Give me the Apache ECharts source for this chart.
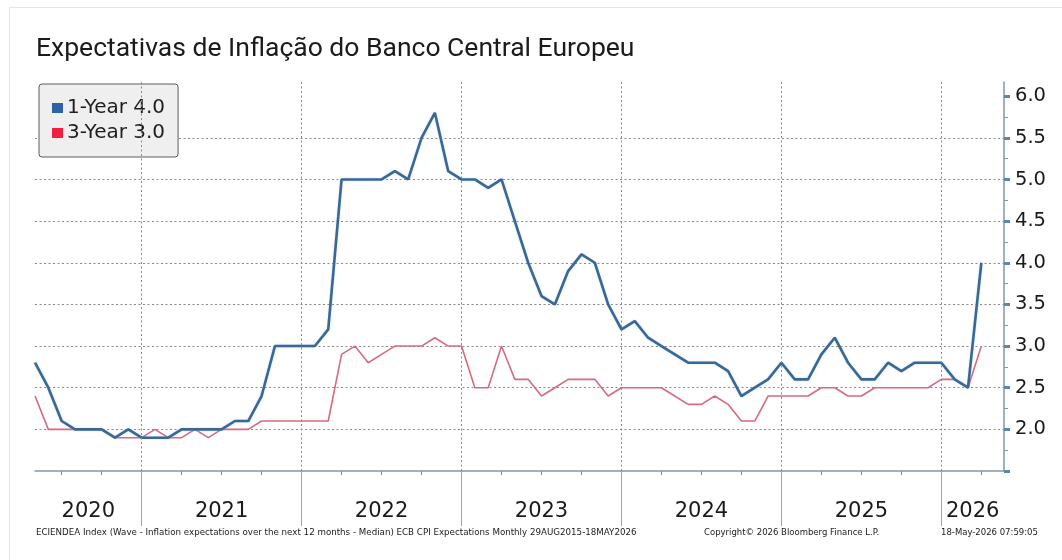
<!DOCTYPE html>
<html>
<head>
<meta charset="utf-8">
<title>Expectativas de Inflação do Banco Central Europeu</title>
<script src="https://cdn.jsdelivr.net/npm/echarts@6/dist/echarts.min.js"></script>
<style>
  html, body { margin: 0; padding: 0; background: #ffffff; }
  #chart { width: 1062px; height: 560px; }
</style>
</head>
<body>
<div id="chart"></div>
<script>
// Survey months (values are plotted at month end)
const months = [
  '2020-04','2020-05','2020-06','2020-07','2020-08','2020-09','2020-10','2020-11','2020-12',
  '2021-01','2021-02','2021-03','2021-04','2021-05','2021-06','2021-07','2021-08','2021-09','2021-10','2021-11','2021-12',
  '2022-01','2022-02','2022-03','2022-04','2022-05','2022-06','2022-07','2022-08','2022-09','2022-10','2022-11','2022-12',
  '2023-01','2023-02','2023-03','2023-04','2023-05','2023-06','2023-07','2023-08','2023-09','2023-10','2023-11','2023-12',
  '2024-01','2024-02','2024-03','2024-04','2024-05','2024-06','2024-07','2024-08','2024-09','2024-10','2024-11','2024-12',
  '2025-01','2025-02','2025-03','2025-04','2025-05','2025-06','2025-07','2025-08','2025-09','2025-10','2025-11','2025-12',
  '2026-01','2026-02','2026-03'
];

// Median inflation expectations, 12 months ahead (%)
const oneYear = [
  2.8, 2.5, 2.1, 2.0, 2.0, 2.0, 1.9, 2.0, 1.9,
  1.9, 1.9, 2.0, 2.0, 2.0, 2.0, 2.1, 2.1, 2.4, 3.0, 3.0, 3.0,
  3.0, 3.2, 5.0, 5.0, 5.0, 5.0, 5.1, 5.0, 5.5, 5.8, 5.1, 5.0,
  5.0, 4.9, 5.0, 4.5, 4.0, 3.6, 3.5, 3.9, 4.1, 4.0, 3.5, 3.2,
  3.3, 3.1, 3.0, 2.9, 2.8, 2.8, 2.8, 2.7, 2.4, 2.5, 2.6, 2.8,
  2.6, 2.6, 2.9, 3.1, 2.8, 2.6, 2.6, 2.8, 2.7, 2.8, 2.8, 2.8,
  2.6, 2.5, 4.0
];

// Median inflation expectations, 3 years ahead (%)
const threeYear = [
  2.4, 2.0, 2.0, 2.0, 2.0, 2.0, 1.9, 1.9, 1.9,
  2.0, 1.9, 1.9, 2.0, 1.9, 2.0, 2.0, 2.0, 2.1, 2.1, 2.1, 2.1,
  2.1, 2.1, 2.9, 3.0, 2.8, 2.9, 3.0, 3.0, 3.0, 3.1, 3.0, 3.0,
  2.5, 2.5, 3.0, 2.6, 2.6, 2.4, 2.5, 2.6, 2.6, 2.6, 2.4, 2.5,
  2.5, 2.5, 2.5, 2.4, 2.3, 2.3, 2.4, 2.3, 2.1, 2.1, 2.4, 2.4,
  2.4, 2.4, 2.5, 2.5, 2.4, 2.4, 2.5, 2.5, 2.5, 2.5, 2.5, 2.6,
  2.6, 2.5, 3.0
];

const seriesNames = ['1-Year', '3-Year'];
const years = [2020, 2021, 2022, 2023, 2024, 2025, 2026];
const yTickLabels = [2.0, 2.5, 3.0, 3.5, 4.0, 4.5, 5.0, 5.5, 6.0];

const titleText = 'Expectativas de Inflação do Banco Central Europeu';
const footerLeft = 'ECIENDEA Index (Wave - Inflation expectations over the next 12 months - Median) ECB CPI Expectations Monthly 29AUG2015-18MAY2026';
const footerMid = 'Copyright\u00A9 2026 Bloomberg Finance L.P.';
const footerRight = '18-May-2026 07:59:05';

// x is measured in months since the start of 2020 (month-end positions)
const BASE_YEAR = 2020;
function monthPos(m) {
  const [y, mo] = m.split('-').map(Number);
  return (y - BASE_YEAR) * 12 + mo;
}
const X_MIN = monthPos(months[0]);
const X_MAX = X_MIN + 72.7;
const Y_MIN = 1.5, Y_MAX = 6.17;

const pts1 = months.map((m, i) => [monthPos(m), oneYear[i]]);
const pts3 = months.map((m, i) => [monthPos(m), threeYear[i]]);

// Year boundaries, quarter ticks and centred year labels
const yearStarts = years.map(y => (y - BASE_YEAR) * 12);
const yearBounds = yearStarts.filter(v => v > X_MIN && v < X_MAX);
const quarterTicks = [];
for (let v = Math.ceil(X_MIN / 3) * 3; v < X_MAX; v += 3) {
  if (v % 12 !== 0) quarterTicks.push(v);
}
const yearMids = yearStarts.map(s => (Math.max(s, X_MIN) + Math.min(s + 12, X_MAX)) / 2);

const yMinor = [];
for (let v = Y_MIN + 0.25; v < Y_MAX; v += 0.5) yMinor.push(+v.toFixed(2));
const yMajor = [Y_MIN].concat(yTickLabels);

const AXIS_COLOR = '#7d98ab';
const GRID_COLOR = '#8a8a8a';
const DOT = [2, 2.5];
const labelFont = 'DejaVu Sans, Verdana, sans-serif';
const smallFont = '"DejaVu Sans", Verdana, sans-serif';

const chart = echarts.init(document.getElementById('chart'), null, { renderer: 'canvas' });

chart.setOption({
  animation: false,
  backgroundColor: '#ffffff',
  title: {
    text: titleText,
    left: 30,
    top: 36,
    padding: [0, 6],
    textStyle: { fontFamily: 'Roboto, sans-serif', fontSize: 26.5, fontWeight: 'normal', color: '#1b1b1b' }
  },
  grid: { left: 35, right: 58, top: 82, bottom: 89, containLabel: false },
  legend: {
    data: seriesNames,
    orient: 'vertical',
    left: 39,
    top: 84,
    padding: [14, 13, 14, 13],
    itemGap: 5,
    itemWidth: 11,
    itemHeight: 10,
    icon: 'rect',
    backgroundColor: '#efefef',
    borderColor: '#5c5c5c',
    borderWidth: 1,
    borderRadius: 3,
    selectedMode: false,
    textStyle: { fontFamily: labelFont, fontSize: 20, color: '#1e1e1e', padding: [0, 0, 0, -1] },
    formatter: name => {
      const arr = name === seriesNames[0] ? oneYear : threeYear;
      return name + ' ' + arr[arr.length - 1].toFixed(1);
    }
  },
  xAxis: [
    {
      type: 'value',
      min: X_MIN,
      max: X_MAX,
      position: 'bottom',
      axisLine: { show: true, lineStyle: { color: AXIS_COLOR, width: 1.5 } },
      axisTick: { show: true, customValues: quarterTicks, length: 4, lineStyle: { color: '#8a8a8a', width: 1 } },
      axisLabel: { show: false },
      splitLine: { show: false }
    },
    {
      type: 'value',
      min: X_MIN,
      max: X_MAX,
      position: 'bottom',
      axisLine: { show: false },
      axisTick: { show: true, customValues: yearBounds, length: 55, lineStyle: { color: '#a3a3a3', width: 1 } },
      axisLabel: {
        show: true,
        customValues: yearMids,
        margin: 30,
        fontFamily: labelFont,
        fontSize: 21,
        color: '#1a1a1a',
        formatter: v => {
          const k = yearMids.findIndex(m => Math.abs(m - v) < 1e-6);
          return k >= 0 ? String(years[k]) : '';
        }
      },
      splitLine: { show: false }
    }
  ],
  yAxis: [
    {
      type: 'value',
      position: 'right',
      min: Y_MIN,
      max: Y_MAX,
      interval: 0.5,
      axisLine: { show: true, lineStyle: { color: AXIS_COLOR, width: 1.5 } },
      axisTick: { show: true, customValues: yMinor, length: 4, lineStyle: { color: AXIS_COLOR, width: 1 } },
      axisLabel: { show: false },
      splitLine: { show: false }
    },
    {
      type: 'value',
      position: 'right',
      min: Y_MIN,
      max: Y_MAX,
      interval: 0.5,
      axisLine: { show: false },
      axisTick: { show: true, customValues: yMajor, length: 6, lineStyle: { color: '#5f87a3', width: 3 } },
      axisLabel: {
        show: true,
        customValues: yTickLabels,
        margin: 11,
        fontFamily: labelFont,
        fontSize: 19.5,
        color: '#1a1a1a',
        formatter: v => v.toFixed(1)
      },
      splitLine: {
        show: true,
        showMinLine: false,
        showMaxLine: false,
        lineStyle: { color: GRID_COLOR, type: DOT, width: 1 }
      }
    }
  ],
  graphic: [
    // card frame
    { type: 'line', shape: { x1: 9, y1: 7.5, x2: 1062, y2: 7.5 }, style: { stroke: '#e6e6e6', lineWidth: 1 }, silent: true },
    { type: 'line', shape: { x1: 9.5, y1: 7, x2: 9.5, y2: 560 }, style: { stroke: '#e6e6e6', lineWidth: 1 }, silent: true },
    // source line
    { type: 'text', left: 36, top: 528, style: { text: footerLeft, font: '8.7px ' + smallFont, fill: '#1a1a1a' }, silent: true },
    { type: 'text', left: 704, top: 528, style: { text: footerMid, font: '8.5px ' + smallFont, fill: '#1a1a1a' }, silent: true },
    { type: 'text', left: 941, top: 528, style: { text: footerRight, font: '8.5px ' + smallFont, fill: '#1a1a1a' }, silent: true }
  ],
  series: [
    {
      // vertical year gridlines, kept beneath the data lines
      type: 'line',
      data: [],
      z: 1,
      silent: true,
      markLine: {
        silent: true,
        symbol: ['none', 'none'],
        label: { show: false },
        lineStyle: { color: GRID_COLOR, type: DOT, width: 1 },
        emphasis: { disabled: true },
        data: yearBounds.map(v => ({ xAxis: v }))
      }
    },
    {
      name: seriesNames[1],
      type: 'line',
      data: pts3,
      z: 3,
      showSymbol: false,
      symbol: 'none',
      itemStyle: { color: '#f01e40' },
      lineStyle: { color: '#d76a80', width: 1.6 },
      emphasis: { disabled: true }
    },
    {
      name: seriesNames[0],
      type: 'line',
      data: pts1,
      z: 4,
      showSymbol: false,
      symbol: 'none',
      itemStyle: { color: '#2c63a6' },
      lineStyle: { color: '#3a6794', width: 2.6, shadowColor: 'rgba(140,190,235,0.55)', shadowBlur: 2 },
      emphasis: { disabled: true }
    }
  ]
});
</script>
</body>
</html>
